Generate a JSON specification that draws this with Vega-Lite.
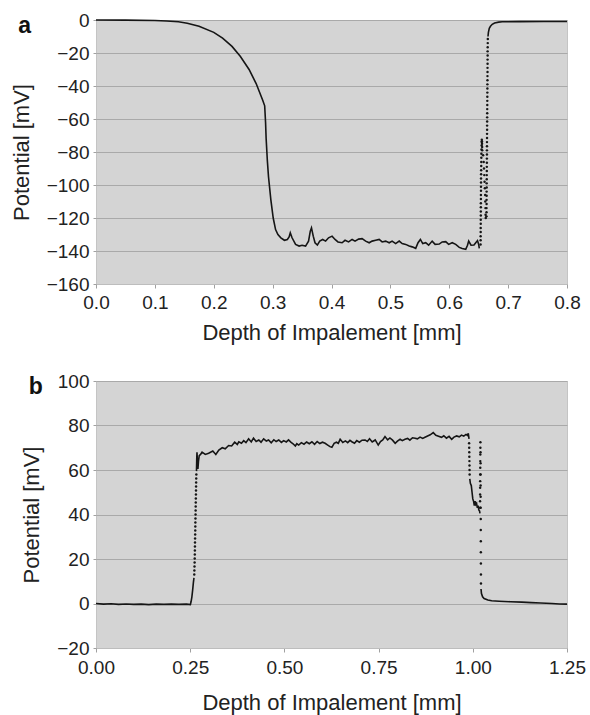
{
  "$schema": "https://vega.github.io/schema/vega-lite/v6.json",
  "padding": {"left": 9, "top": 10, "right": 5, "bottom": 2},
  "spacing": 27,
  "config": {
    "font": "Liberation Sans",
    "view": {"fill": "#d4d4d4", "stroke": "#c4c4c4", "strokeWidth": 1},
    "axis": {
      "labelFont": "Liberation Sans", "labelFontSize": 19, "labelColor": "#222",
      "titleFont": "Liberation Sans", "titleFontSize": 22, "titleFontWeight": "normal", "titleColor": "#222",
      "tickColor": "#a0a0a0", "domainColor": "#bdbdbd", "labelFlush": false, "labelOverlap": false
    },
    "axisX": {"grid": false, "tickSize": 4, "labelPadding": 5, "titlePadding": 10},
    "axisY": {"grid": true, "gridColor": "#a9a9a9", "gridWidth": 1, "domain": false, "tickSize": 3, "labelPadding": 4, "titlePadding": 13}
  },
  "datasets": {
    "a_line": [
      {"d":0,"v":0,"part":1},{"d":0.05,"v":-0.1,"part":1},{"d":0.1,"v":-0.3,"part":1},{"d":0.12,"v":-0.6,"part":1},{"d":0.14,"v":-1.1,"part":1},{"d":0.155,"v":-2,"part":1},{"d":0.175,"v":-3.8,"part":1},{"d":0.2,"v":-7.5,"part":1},{"d":0.215,"v":-11,"part":1},{"d":0.231,"v":-16,"part":1},{"d":0.245,"v":-22,"part":1},{"d":0.26,"v":-30,"part":1},{"d":0.272,"v":-38.5,"part":1},{"d":0.283,"v":-48.5,"part":1},{"d":0.2865,"v":-52,"part":1},{"d":0.288,"v":-62,"part":1},{"d":0.289,"v":-72,"part":1},{"d":0.291,"v":-85,"part":1},{"d":0.293,"v":-95,"part":1},{"d":0.297,"v":-109,"part":1},{"d":0.301,"v":-120,"part":1},{"d":0.305,"v":-127,"part":1},{"d":0.309,"v":-130,"part":1},{"d":0.314,"v":-132,"part":1},{"d":0.32,"v":-133.5,"part":1},{"d":0.325,"v":-133,"part":1},{"d":0.328,"v":-131.5,"part":1},{"d":0.33,"v":-129,"part":1},{"d":0.333,"v":-132,"part":1},{"d":0.339,"v":-136,"part":1},{"d":0.345,"v":-137,"part":1},{"d":0.35,"v":-136.5,"part":1},{"d":0.356,"v":-137,"part":1},{"d":0.361,"v":-134,"part":1},{"d":0.364,"v":-128,"part":1},{"d":0.366,"v":-126,"part":1},{"d":0.369,"v":-131,"part":1},{"d":0.372,"v":-135,"part":1},{"d":0.376,"v":-136.4,"part":1},{"d":0.38,"v":-134,"part":1},{"d":0.385,"v":-133,"part":1},{"d":0.39,"v":-134,"part":1},{"d":0.395,"v":-132,"part":1},{"d":0.401,"v":-131,"part":1},{"d":0.406,"v":-133,"part":1},{"d":0.411,"v":-134.5,"part":1},{"d":0.418,"v":-135,"part":1},{"d":0.423,"v":-133.5,"part":1},{"d":0.429,"v":-134.5,"part":1},{"d":0.435,"v":-133,"part":1},{"d":0.44,"v":-134,"part":1},{"d":0.446,"v":-132.8,"part":1},{"d":0.452,"v":-132.5,"part":1},{"d":0.458,"v":-134,"part":1},{"d":0.464,"v":-135,"part":1},{"d":0.469,"v":-134,"part":1},{"d":0.475,"v":-133.5,"part":1},{"d":0.481,"v":-133,"part":1},{"d":0.486,"v":-134.5,"part":1},{"d":0.492,"v":-134,"part":1},{"d":0.498,"v":-135,"part":1},{"d":0.503,"v":-134,"part":1},{"d":0.509,"v":-135.5,"part":1},{"d":0.515,"v":-134,"part":1},{"d":0.52,"v":-135.5,"part":1},{"d":0.526,"v":-136,"part":1},{"d":0.532,"v":-137,"part":1},{"d":0.537,"v":-137.5,"part":1},{"d":0.543,"v":-138.4,"part":1},{"d":0.547,"v":-135,"part":1},{"d":0.551,"v":-133,"part":1},{"d":0.555,"v":-135.5,"part":1},{"d":0.56,"v":-135,"part":1},{"d":0.565,"v":-136.5,"part":1},{"d":0.571,"v":-134,"part":1},{"d":0.576,"v":-136,"part":1},{"d":0.583,"v":-135.8,"part":1},{"d":0.588,"v":-134.5,"part":1},{"d":0.594,"v":-134.3,"part":1},{"d":0.599,"v":-136,"part":1},{"d":0.605,"v":-135,"part":1},{"d":0.611,"v":-136,"part":1},{"d":0.617,"v":-137.8,"part":1},{"d":0.622,"v":-138.5,"part":1},{"d":0.628,"v":-139,"part":1},{"d":0.631,"v":-136.5,"part":1},{"d":0.633,"v":-134,"part":1},{"d":0.637,"v":-136.5,"part":1},{"d":0.642,"v":-136.4,"part":1},{"d":0.645,"v":-135,"part":1},{"d":0.648,"v":-133.7,"part":1},{"d":0.65,"v":-136,"part":1},{"d":0.651,"v":-138.4,"part":1},
      {"d":0.6658,"v":-10,"part":2},{"d":0.6665,"v":-7.5,"part":2},{"d":0.668,"v":-5,"part":2},{"d":0.67,"v":-3.8,"part":2},{"d":0.673,"v":-2.6,"part":2},{"d":0.677,"v":-1.8,"part":2},{"d":0.684,"v":-1.3,"part":2},{"d":0.69,"v":-1.1,"part":2},{"d":0.72,"v":-1,"part":2},{"d":0.76,"v":-0.9,"part":2},{"d":0.8,"v":-0.9,"part":2}
    ],
    "a_dots": [
      {"d":0.6532,"v":-136},{"d":0.6533,"v":-133.5},{"d":0.6533,"v":-131},{"d":0.6534,"v":-128.5},{"d":0.6534,"v":-126},{"d":0.6535,"v":-123.5},{"d":0.6535,"v":-121},{"d":0.6536,"v":-118.5},{"d":0.6536,"v":-116},{"d":0.6537,"v":-113.5},{"d":0.6537,"v":-111},{"d":0.6538,"v":-108.5},{"d":0.6538,"v":-106},{"d":0.6539,"v":-103.5},{"d":0.6539,"v":-101},{"d":0.654,"v":-98.5},{"d":0.654,"v":-96},{"d":0.6541,"v":-93.5},{"d":0.6542,"v":-91},{"d":0.6543,"v":-88.5},{"d":0.6544,"v":-86},{"d":0.6545,"v":-83.5},{"d":0.6546,"v":-81},{"d":0.6548,"v":-78.5},{"d":0.655,"v":-76},{"d":0.6552,"v":-74},
      {"d":0.6553,"v":-72.5},{"d":0.6555,"v":-73.5},{"d":0.6557,"v":-75},{"d":0.6559,"v":-77},{"d":0.656,"v":-79},
      {"d":0.6575,"v":-82},{"d":0.6585,"v":-86},{"d":0.659,"v":-90},{"d":0.6595,"v":-94},{"d":0.66,"v":-98},{"d":0.6605,"v":-102},{"d":0.661,"v":-106},{"d":0.6612,"v":-110},{"d":0.6615,"v":-114},{"d":0.6617,"v":-118},{"d":0.662,"v":-120},
      {"d":0.6632,"v":-119},{"d":0.6633,"v":-116.5},{"d":0.6633,"v":-114},{"d":0.6634,"v":-111.5},{"d":0.6634,"v":-109},{"d":0.6635,"v":-106.5},{"d":0.6635,"v":-104},{"d":0.6636,"v":-101.5},{"d":0.6636,"v":-99},{"d":0.6637,"v":-96.5},{"d":0.6637,"v":-94},{"d":0.6638,"v":-91.5},{"d":0.6638,"v":-89},{"d":0.6639,"v":-86.5},{"d":0.6639,"v":-84},{"d":0.664,"v":-81.5},{"d":0.664,"v":-79},{"d":0.6641,"v":-76.5},{"d":0.6641,"v":-74},{"d":0.6642,"v":-71.5},{"d":0.6642,"v":-69},{"d":0.6643,"v":-66.5},{"d":0.6643,"v":-64},{"d":0.6644,"v":-61.5},{"d":0.6644,"v":-59},{"d":0.6645,"v":-56.5},{"d":0.6645,"v":-54},{"d":0.6646,"v":-51.5},{"d":0.6646,"v":-49},{"d":0.6647,"v":-46.5},{"d":0.6647,"v":-44},{"d":0.6648,"v":-41.5},{"d":0.6648,"v":-39},{"d":0.6649,"v":-36.5},{"d":0.6649,"v":-34},{"d":0.665,"v":-31.5},{"d":0.665,"v":-29},{"d":0.6651,"v":-26.5},{"d":0.6651,"v":-24},{"d":0.6652,"v":-21.5},{"d":0.6652,"v":-19},{"d":0.6653,"v":-16.5},{"d":0.6654,"v":-14},{"d":0.6655,"v":-11.5}
    ],
    "b_line": [
      {"d":0,"v":0,"part":1},{"d":0.02,"v":-0.3,"part":1},{"d":0.04,"v":-0.1,"part":1},{"d":0.06,"v":-0.4,"part":1},{"d":0.08,"v":-0.2,"part":1},{"d":0.1,"v":-0.4,"part":1},{"d":0.12,"v":-0.3,"part":1},{"d":0.14,"v":-0.5,"part":1},{"d":0.16,"v":-0.3,"part":1},{"d":0.18,"v":-0.4,"part":1},{"d":0.2,"v":-0.3,"part":1},{"d":0.22,"v":-0.4,"part":1},{"d":0.24,"v":-0.3,"part":1},{"d":0.2505,"v":-0.5,"part":1},{"d":0.2525,"v":1,"part":1},{"d":0.2545,"v":3,"part":1},{"d":0.2565,"v":6,"part":1},{"d":0.2585,"v":9.5,"part":1},{"d":0.26,"v":11.5,"part":1},
      {"d":0.2667,"v":59.5,"part":2},{"d":0.2675,"v":66,"part":2},{"d":0.268,"v":68,"part":2},{"d":0.2695,"v":63,"part":2},{"d":0.2705,"v":60.5,"part":2},{"d":0.272,"v":64,"part":2},{"d":0.274,"v":66.5,"part":2},{"d":0.2775,"v":67,"part":2},{"d":0.2815,"v":68,"part":2},{"d":0.29,"v":67,"part":2},{"d":0.299,"v":67.5,"part":2},{"d":0.31,"v":68.5,"part":2},{"d":0.318,"v":67,"part":2},{"d":0.326,"v":69,"part":2},{"d":0.335,"v":70,"part":2},{"d":0.343,"v":69.5,"part":2},{"d":0.352,"v":71,"part":2},{"d":0.36,"v":70.8,"part":2},{"d":0.368,"v":72.5,"part":2},{"d":0.375,"v":71.5,"part":2},{"d":0.379,"v":72.7,"part":2},{"d":0.386,"v":72,"part":2},{"d":0.392,"v":73.2,"part":2},{"d":0.398,"v":72.3,"part":2},{"d":0.405,"v":74,"part":2},{"d":0.412,"v":72.6,"part":2},{"d":0.418,"v":74.3,"part":2},{"d":0.425,"v":72.8,"part":2},{"d":0.432,"v":73.5,"part":2},{"d":0.438,"v":72.5,"part":2},{"d":0.445,"v":74,"part":2},{"d":0.452,"v":73,"part":2},{"d":0.458,"v":73.5,"part":2},{"d":0.465,"v":72.2,"part":2},{"d":0.472,"v":73.6,"part":2},{"d":0.478,"v":72.8,"part":2},{"d":0.485,"v":73.5,"part":2},{"d":0.492,"v":72.4,"part":2},{"d":0.498,"v":73.2,"part":2},{"d":0.505,"v":72.6,"part":2},{"d":0.511,"v":73.5,"part":2},{"d":0.517,"v":72.5,"part":2},{"d":0.523,"v":71.8,"part":2},{"d":0.529,"v":70.8,"part":2},{"d":0.533,"v":71.8,"part":2},{"d":0.538,"v":71.2,"part":2},{"d":0.545,"v":72.3,"part":2},{"d":0.552,"v":71.6,"part":2},{"d":0.559,"v":72.6,"part":2},{"d":0.566,"v":71.8,"part":2},{"d":0.573,"v":72.7,"part":2},{"d":0.58,"v":71.5,"part":2},{"d":0.587,"v":72.8,"part":2},{"d":0.594,"v":71.9,"part":2},{"d":0.601,"v":72.5,"part":2},{"d":0.608,"v":72,"part":2},{"d":0.615,"v":71.2,"part":2},{"d":0.621,"v":70.5,"part":2},{"d":0.626,"v":70.2,"part":2},{"d":0.632,"v":72,"part":2},{"d":0.638,"v":72.5,"part":2},{"d":0.643,"v":72,"part":2},{"d":0.648,"v":73.8,"part":2},{"d":0.655,"v":72.4,"part":2},{"d":0.662,"v":73.1,"part":2},{"d":0.668,"v":72.3,"part":2},{"d":0.674,"v":73.3,"part":2},{"d":0.679,"v":72.7,"part":2},{"d":0.686,"v":72,"part":2},{"d":0.692,"v":73.2,"part":2},{"d":0.699,"v":72.5,"part":2},{"d":0.706,"v":73.4,"part":2},{"d":0.714,"v":73.5,"part":2},{"d":0.72,"v":72.8,"part":2},{"d":0.726,"v":74,"part":2},{"d":0.733,"v":72.6,"part":2},{"d":0.741,"v":73.5,"part":2},{"d":0.749,"v":71.2,"part":2},{"d":0.755,"v":72.8,"part":2},{"d":0.761,"v":73.5,"part":2},{"d":0.767,"v":75,"part":2},{"d":0.774,"v":73.5,"part":2},{"d":0.78,"v":74.4,"part":2},{"d":0.787,"v":73.4,"part":2},{"d":0.794,"v":72,"part":2},{"d":0.8,"v":73,"part":2},{"d":0.807,"v":73.8,"part":2},{"d":0.813,"v":73.2,"part":2},{"d":0.82,"v":73.8,"part":2},{"d":0.827,"v":74.2,"part":2},{"d":0.833,"v":73.4,"part":2},{"d":0.84,"v":74.5,"part":2},{"d":0.847,"v":74.3,"part":2},{"d":0.853,"v":74,"part":2},{"d":0.86,"v":74.8,"part":2},{"d":0.867,"v":74.2,"part":2},{"d":0.873,"v":74.7,"part":2},{"d":0.88,"v":75.3,"part":2},{"d":0.887,"v":75.8,"part":2},{"d":0.895,"v":76.8,"part":2},{"d":0.902,"v":75.6,"part":2},{"d":0.909,"v":75.2,"part":2},{"d":0.917,"v":74.7,"part":2},{"d":0.923,"v":75.4,"part":2},{"d":0.93,"v":74.3,"part":2},{"d":0.937,"v":75.1,"part":2},{"d":0.944,"v":73.8,"part":2},{"d":0.95,"v":74.8,"part":2},{"d":0.957,"v":75.3,"part":2},{"d":0.964,"v":74.9,"part":2},{"d":0.97,"v":75.7,"part":2},{"d":0.976,"v":75.2,"part":2},{"d":0.982,"v":76,"part":2},{"d":0.986,"v":75.5,"part":2},{"d":0.988,"v":76.5,"part":2},{"d":0.99,"v":74,"part":2},
      {"d":0.992,"v":56,"part":3},{"d":0.9935,"v":54,"part":3},{"d":0.996,"v":53,"part":3},{"d":0.998,"v":50,"part":3},{"d":1.0,"v":47,"part":3},{"d":1.002,"v":46,"part":3},{"d":1.004,"v":44,"part":3},{"d":1.006,"v":46,"part":3},{"d":1.008,"v":44.5,"part":3},{"d":1.01,"v":45,"part":3},{"d":1.012,"v":43,"part":3},{"d":1.014,"v":44,"part":3},{"d":1.016,"v":42,"part":3},{"d":1.018,"v":41.5,"part":3},{"d":1.019,"v":40.5,"part":3},
      {"d":1.0218,"v":6.5,"part":4},{"d":1.023,"v":4.5,"part":4},{"d":1.026,"v":3,"part":4},{"d":1.03,"v":2.2,"part":4},{"d":1.04,"v":1.6,"part":4},{"d":1.05,"v":1.2,"part":4},{"d":1.07,"v":1,"part":4},{"d":1.1,"v":0.8,"part":4},{"d":1.13,"v":0.6,"part":4},{"d":1.155,"v":0.4,"part":4},{"d":1.18,"v":0.2,"part":4},{"d":1.21,"v":0,"part":4},{"d":1.23,"v":-0.2,"part":4},{"d":1.25,"v":-0.3,"part":4}
    ],
    "b_dots": [
      {"d":0.2608,"v":13},{"d":0.2611,"v":14.8},{"d":0.2614,"v":16.6},{"d":0.2617,"v":18.4},{"d":0.262,"v":20.2},{"d":0.2622,"v":22},{"d":0.2624,"v":23.8},{"d":0.2626,"v":25.6},{"d":0.2628,"v":27.4},{"d":0.263,"v":29.2},{"d":0.2632,"v":31},{"d":0.2634,"v":32.8},{"d":0.2636,"v":34.6},{"d":0.2638,"v":36.4},{"d":0.264,"v":38.2},{"d":0.2642,"v":40},{"d":0.2644,"v":41.8},{"d":0.2646,"v":43.6},{"d":0.2648,"v":45.4},{"d":0.265,"v":47.2},{"d":0.2652,"v":49},{"d":0.2654,"v":50.8},{"d":0.2656,"v":52.6},{"d":0.2658,"v":54.4},{"d":0.266,"v":56.2},{"d":0.2663,"v":58},
      {"d":0.9902,"v":72},{"d":0.9904,"v":70},{"d":0.9906,"v":68},{"d":0.9908,"v":66},{"d":0.991,"v":64},{"d":0.9912,"v":62},{"d":0.9914,"v":60},{"d":0.9916,"v":58},
      {"d":1.0192,"v":43},{"d":1.0193,"v":46},{"d":1.0194,"v":49},{"d":1.0195,"v":52},{"d":1.0196,"v":55},{"d":1.0197,"v":58},{"d":1.0198,"v":61},{"d":1.0199,"v":64},{"d":1.02,"v":67},{"d":1.0201,"v":70},{"d":1.0202,"v":72.5},
      {"d":1.0205,"v":68},{"d":1.0206,"v":63},{"d":1.0207,"v":58},{"d":1.0208,"v":53},{"d":1.0209,"v":48},{"d":1.021,"v":43},{"d":1.0211,"v":38},{"d":1.0212,"v":33},{"d":1.0213,"v":28},{"d":1.0214,"v":23},{"d":1.0215,"v":18},{"d":1.0216,"v":13},{"d":1.0217,"v":9}
    ]
  },
  "vconcat": [
    {
      "width": 471, "height": 264,
      "title": {"text": "a", "anchor": "start", "frame": "bounds", "fontSize": 23, "fontWeight": "bold", "color": "#111", "offset": -27, "dx": 8},
      "encoding": {
        "x": {"field": "d", "type": "quantitative", "scale": {"domain": [0, 0.8], "nice": false}, "axis": {"values": [0,0.1,0.2,0.3,0.4,0.5,0.6,0.7,0.8], "format": ".1f", "title": "Depth of Impalement [mm]", "labelOverlap": false}},
        "y": {"field": "v", "type": "quantitative", "scale": {"domain": [-160, 0], "nice": false}, "axis": {"values": [-160,-140,-120,-100,-80,-60,-40,-20,0], "tickCount": 9, "title": "Potential [mV]", "labelOverlap": false}}
      },
      "layer": [
        {
          "data": {"name": "a_line"},
          "mark": {"type": "line", "color": "#151515", "strokeWidth": 1.6},
          "encoding": {"detail": {"field": "part"}}
        },
        {
          "data": {"name": "a_dots"},
          "mark": {"type": "point", "filled": true, "size": 6, "color": "#151515", "opacity": 1}
        }
      ]
    },
    {
      "width": 471, "height": 267,
      "title": {"text": "b", "anchor": "start", "frame": "bounds", "fontSize": 23, "fontWeight": "bold", "color": "#111", "offset": -27, "dx": 8},
      "encoding": {
        "x": {"field": "d", "type": "quantitative", "scale": {"domain": [0, 1.25], "nice": false}, "axis": {"values": [0,0.25,0.5,0.75,1,1.25], "format": ".2f", "title": "Depth of Impalement [mm]", "labelPadding": 6.5, "titlePadding": 15, "labelOverlap": false}},
        "y": {"field": "v", "type": "quantitative", "scale": {"domain": [-20, 100], "nice": false}, "axis": {"values": [-20,0,20,40,60,80,100], "title": "Potential [mV]", "labelOverlap": false}}
      },
      "layer": [
        {
          "data": {"name": "b_line"},
          "mark": {"type": "line", "color": "#151515", "strokeWidth": 1.6},
          "encoding": {"detail": {"field": "part"}}
        },
        {
          "data": {"name": "b_dots"},
          "mark": {"type": "point", "filled": true, "size": 6, "color": "#151515", "opacity": 1}
        }
      ]
    }
  ]
}
